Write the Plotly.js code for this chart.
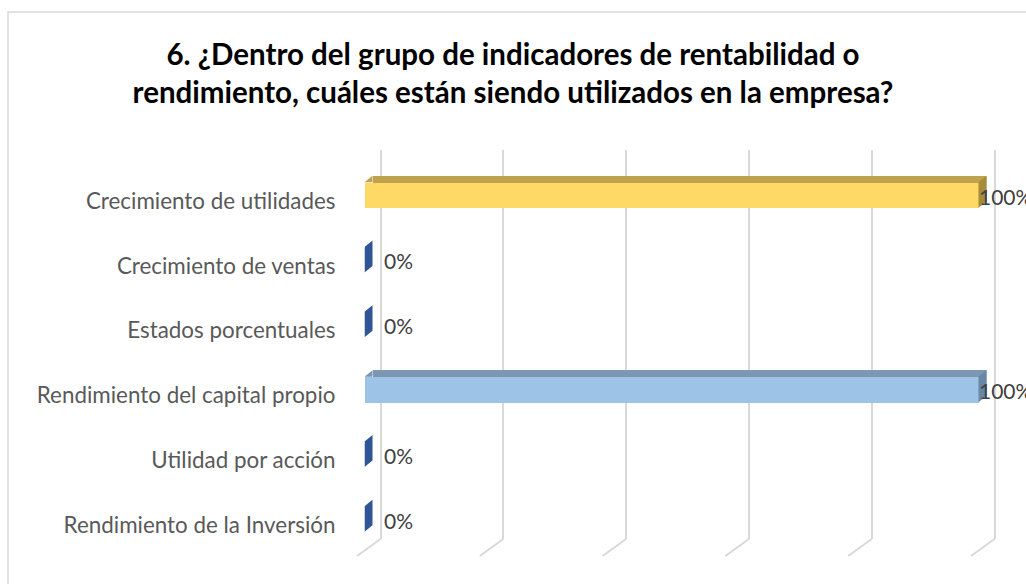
<!DOCTYPE html>
<html>
<head>
<meta charset="utf-8">
<script src="https://cdn.plot.ly/plotly-3.0.1.min.js"></script>
<style>html,body{margin:0;padding:0;background:#fff;}#chart{width:1026px;height:584px;}</style>
</head>
<body>
<div id="chart"></div>
<script>
// ---- data ----
const categories = [
  'Crecimiento de utilidades',
  'Crecimiento de ventas',
  'Estados porcentuales',
  'Rendimiento del capital propio',
  'Utilidad por acción',
  'Rendimiento de la Inversión'
];
const values = [1, 0, 0, 1, 0, 0];
const valueLabels = ['100%', '0%', '0%', '100%', '0%', '0%'];
const gridTicks = [0, 0.2, 0.4, 0.6, 0.8, 1];
const titleText = '6. ¿Dentro del grupo de indicadores de rentabilidad o<br>rendimiento, cuáles están siendo utilizados en la empresa?';

// ---- style ----
const W = 1026, H = 584;
const frontColors = ['#FFD966', '#4472C4', '#4472C4', '#9DC3E6', '#4472C4', '#4472C4'];
const topColors   = ['#BFA34C', '#2F5597', '#2F5597', '#7B97B3', '#2F5597', '#2F5597'];
const sideColors  = ['#A68B3A', '#2F5597', '#2F5597', '#6A88A6', '#2F5597', '#2F5597'];
const DX = 8, DY = 6.5, HALF = 12.75;
const catStep = 64.8;
const barWidth = (2 * HALF) / catStep;
const PPU = 614;            // pixels per unit (0..1 = 0%..100%)
const FRONT_X0 = 364.5;     // pixel of 0 on front plane
const WALL_X0 = 380.5;      // pixel of 0 on back wall
const WALL_PAD = 0.01;      // range padding so the end gridlines are kept
const BAR_RMAX = 1.03;      // bar axes range end (room for side faces)

function xd(a, b) { return [a / W, b / W]; }
function yd(top, bottom) { return [1 - bottom / H, 1 - top / H]; }

const frontTop = 195 - catStep / 2;
const frontBottom = frontTop + catStep * categories.length;
const wallTop = 150, wallBottom = 539;

const wallRange = [-WALL_PAD, 1 + WALL_PAD];
const wallDomPx = [WALL_X0 - WALL_PAD * PPU, WALL_X0 + (1 + WALL_PAD) * PPU];

const traces = [
  // back wall subplot (carries the gridlines only)
  {
    type: 'scatter', mode: 'markers', x: [null], y: [null],
    xaxis: 'x', yaxis: 'y', hoverinfo: 'skip', showlegend: false
  },
  // back face (visible as the top strip)
  {
    type: 'bar', orientation: 'h', x: values, y: categories,
    xaxis: 'x2', yaxis: 'y2', width: barWidth,
    marker: { color: topColors, line: { width: 0 } },
    hoverinfo: 'skip', showlegend: false
  },
  // front face
  {
    type: 'bar', orientation: 'h', x: values, y: categories,
    xaxis: 'x3', yaxis: 'y3', width: barWidth,
    marker: { color: frontColors, line: { width: 0 } },
    hovertemplate: '%{y}: %{x:.0%}<extra></extra>', showlegend: false
  }
];

const shapes = [];
// outer frame
shapes.push({ type: 'rect', xref: 'paper', yref: 'paper', x0: 8 / W, x1: 1.02, y0: -0.02, y1: 1 - 12 / H,
  line: { color: '#D9D9D9', width: 1.5 }, fillcolor: 'rgba(0,0,0,0)', layer: 'below' });
// floor diagonals at the foot of each gridline
gridTicks.forEach(t => {
  const xf = (wallDomPx[0] + (t - wallRange[0]) / (wallRange[1] - wallRange[0]) * (wallDomPx[1] - wallDomPx[0])) / W;
  shapes.push({ type: 'line', xref: 'paper', yref: 'paper', xsizemode: 'pixel', ysizemode: 'pixel',
    xanchor: xf, yanchor: 1 - wallBottom / H, x0: 0, y0: 0, x1: -23.5, y1: -17,
    line: { color: '#D9D9D9', width: 2 }, layer: 'below' });
});
// side faces and top-left corner triangles
values.forEach((v, i) => {
  shapes.push({ type: 'path', xref: 'x3', yref: 'y3', xsizemode: 'pixel', ysizemode: 'pixel',
    xanchor: v, yanchor: categories[i],
    path: `M0,${-HALF} L${DX},${-HALF + DY} L${DX},${HALF + DY} L0,${HALF} Z`,
    fillcolor: sideColors[i], line: { width: 0 }, layer: 'above' });
  if (v > 0) {
    shapes.push({ type: 'path', xref: 'x3', yref: 'y3', xsizemode: 'pixel', ysizemode: 'pixel',
      xanchor: 0, yanchor: categories[i],
      path: `M0,${HALF} L${DX},${HALF + DY} L${DX},${HALF} Z`,
      fillcolor: topColors[i], line: { width: 0 }, layer: 'above' });
  }
});

const annotations = values.map((v, i) => ({
  xref: 'x3', yref: 'y3', x: v, y: categories[i], text: valueLabels[i],
  showarrow: false, xanchor: 'left', yanchor: 'middle',
  xshift: v > 0 ? -2 : 17.5, yshift: -1,
  font: { family: 'Lato, sans-serif', size: 21, color: '#404040' }
}));

const hidden = { showgrid: false, showticklabels: false, zeroline: false, showline: false, fixedrange: true };

const layout = {
  width: W, height: H,
  margin: { l: 0, r: 0, t: 0, b: 0 },
  paper_bgcolor: '#ffffff', plot_bgcolor: 'rgba(0,0,0,0)',
  showlegend: false,
  title: {
    text: titleText,
    font: { family: 'Lato, sans-serif', size: 29.5, color: '#000000', weight: 'bold' },
    x: 0.5, xanchor: 'center', xref: 'paper',
    y: 1 - 65 / H, yanchor: 'middle', yref: 'container'
  },
  xaxis: { domain: xd(wallDomPx[0], wallDomPx[1]), range: wallRange, tickvals: gridTicks, showticklabels: false,
    showgrid: true, gridcolor: '#D9D9D9', gridwidth: 2, zeroline: false, showline: false,
    anchor: 'y', fixedrange: true },
  yaxis: Object.assign({ domain: yd(wallTop, wallBottom), range: [0, 1], anchor: 'x' }, hidden),
  xaxis2: Object.assign({ domain: xd(FRONT_X0 + DX, FRONT_X0 + DX + PPU), range: [0, 1], anchor: 'y2' }, hidden),
  yaxis2: Object.assign({ domain: yd(frontTop - DY, frontBottom - DY), type: 'category', categoryorder: 'array',
    categoryarray: categories, range: [categories.length - 0.5, -0.5], anchor: 'x2' }, hidden),
  xaxis3: Object.assign({ domain: xd(FRONT_X0, FRONT_X0 + BAR_RMAX * PPU), range: [0, BAR_RMAX], anchor: 'y3' }, hidden),
  yaxis3: { domain: yd(frontTop, frontBottom), type: 'category', categoryorder: 'array',
    categoryarray: categories, range: [categories.length - 0.5, -0.5], anchor: 'x3',
    showgrid: false, zeroline: false, showline: false, ticks: '',
    ticklabelstandoff: 28, ticklabelshift: -6,
    tickfont: { family: 'Lato, sans-serif', size: 22.4, color: '#595959' }, fixedrange: true },
  bargap: 0,
  shapes: shapes,
  annotations: annotations
};

Plotly.newPlot('chart', traces, layout, { displayModeBar: false });
</script>
</body>
</html>
